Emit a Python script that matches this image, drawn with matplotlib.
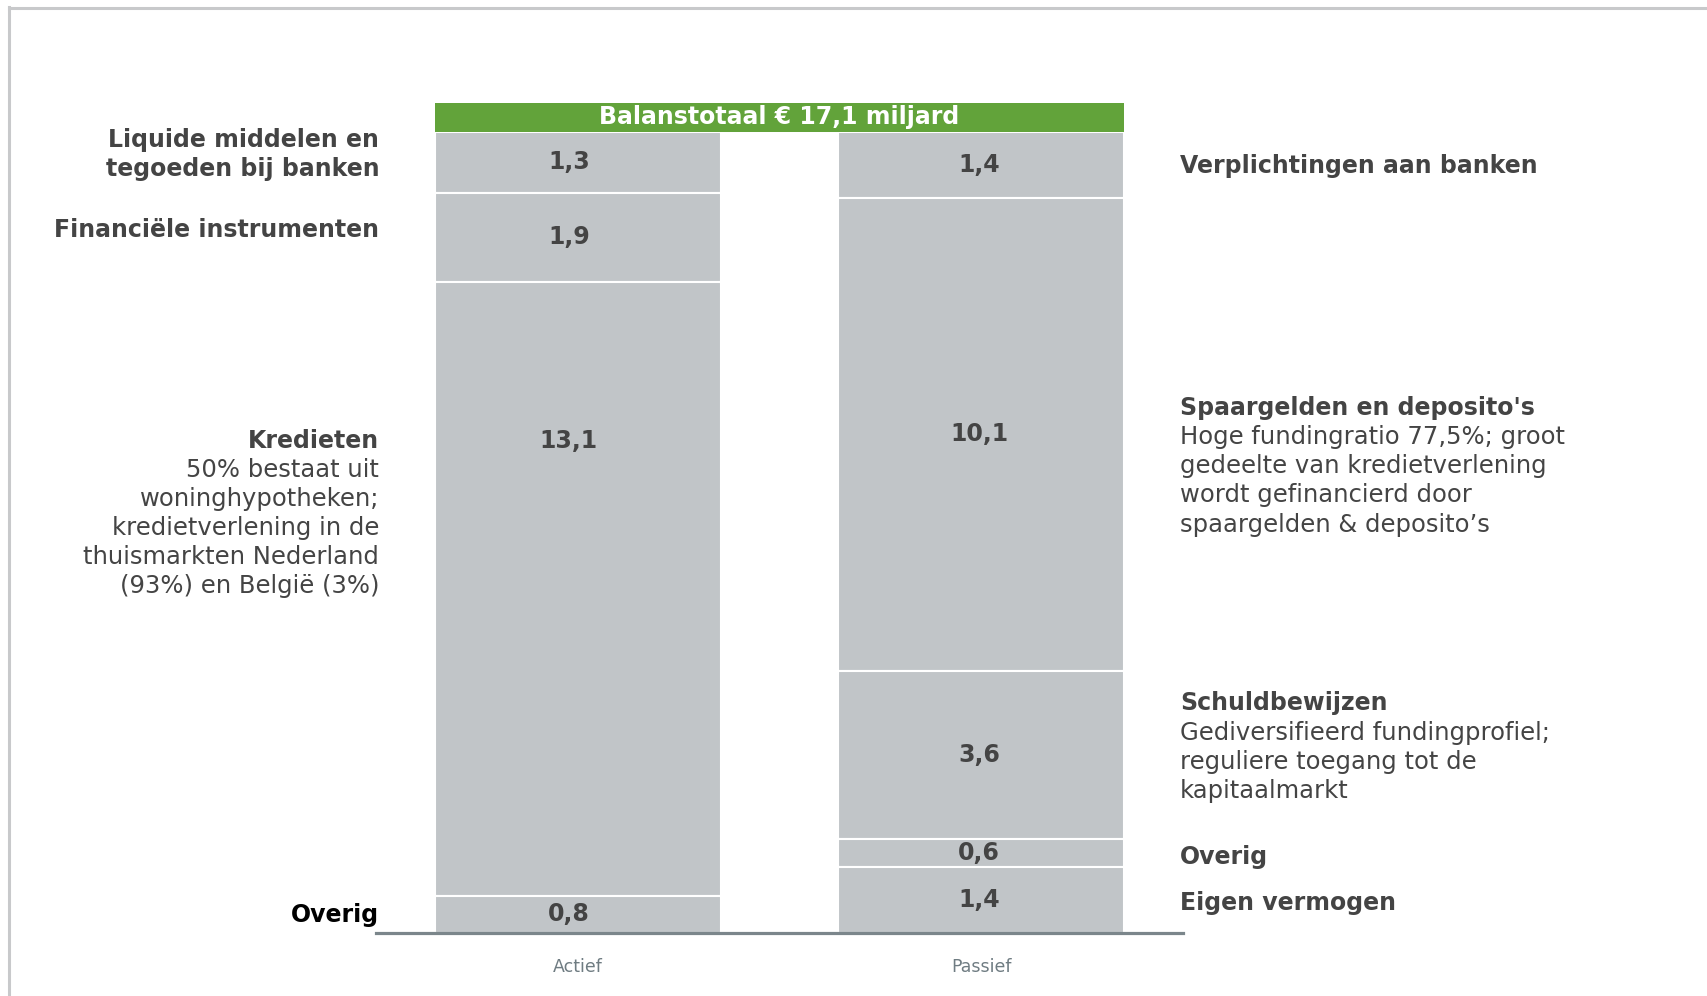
import numpy as np
import matplotlib
matplotlib.use('Agg')
import matplotlib.pyplot as plt
from matplotlib.lines import Line2D
import matplotlib.transforms as mtransforms

# balance sheet, in billions of euro, listed from top to bottom
actief_labels = ['Liquide middelen en\ntegoeden bij banken', 'Financiële instrumenten', 'Kredieten', 'Overig']
actief_values = [1.3, 1.9, 13.1, 0.8]
passief_labels = ['Verplichtingen aan banken', "Spaargelden en deposito's", 'Schuldbewijzen', 'Overig', 'Eigen vermogen']
passief_values = [1.4, 10.1, 3.6, 0.6, 1.4]
columns = ['Actief', 'Passief']
total_label = 'Balanstotaal € 17,1 miljard'

actief_notes = {'Kredieten': ['50% bestaat uit', 'woninghypotheken;', 'kredietverlening in de',
                              'thuismarkten Nederland', '(93%) en België (3%)']}
passief_notes = {"Spaargelden en deposito's": ['Hoge fundingratio 77,5%; groot', 'gedeelte van kredietverlening',
                                               'wordt gefinancierd door', 'spaargelden & deposito’s'],
                 'Schuldbewijzen': ['Gediversifieerd fundingprofiel;', 'reguliere toegang tot de', 'kapitaalmarkt']}

# where the side labels sit (value units)
actief_label_y = [16.62, 15.01, 10.50, 0.39]
passief_label_y = [16.38, 11.20, 4.90, 1.63, 0.63]

BAR = '#c1c5c8'
GREEN = '#62a33a'
DARK = '#444444'
AXIS = '#7b868b'
FS = 17
FS_NOTE = 17.5

W, H = 1707, 996
fig = plt.figure(figsize=(W / 100, H / 100), dpi=100)
fig.patch.set_facecolor('white')

# frame lines on top and left
fig.add_artist(Line2D([8.5 / W, 1], [1 - 8.5 / H, 1 - 8.5 / H], color='#c8c9cb', lw=2.2))
fig.add_artist(Line2D([8.5 / W, 8.5 / W], [0, 1 - 7 / H], color='#c8c9cb', lw=2.2))

ax = fig.add_axes([376 / W, 63 / H, 807 / W, 801 / H])
total = sum(actief_values)
ax.set_xlim(-0.5, 1.5)
ax.set_ylim(0, total)
width = 0.709

def stack(x, values, dx, label_pos=None):
    tops = total - np.concatenate([[0], np.cumsum(values)[:-1]])
    bottoms = tops - np.array(values)
    ax.bar(x, values, width=width, bottom=bottoms, color=BAR, edgecolor='white', linewidth=1.5)
    for i, (v, b) in enumerate(zip(values, bottoms)):
        frac = 0.5 if label_pos is None else label_pos.get(i, 0.5)
        ax.text(x + dx, b + v * frac, f'{v:.1f}'.replace('.', ','), ha='center', va='center',
                fontsize=FS, fontweight='bold', color=DARK)

stack(0, actief_values, -0.022, {2: 0.74})
stack(1, passief_values, -0.005)

# green total bar above the two stacks
ax.bar(0.5, 0.62, width=1 + width, bottom=total, color=GREEN, clip_on=False)
ax.text(0.5, total + 0.31, total_label, ha='center', va='center', fontsize=FS,
        fontweight='bold', color='white', clip_on=False)

trans = mtransforms.blended_transform_factory(ax.transAxes, ax.transData)
step = 0.62

def side_labels(labels, ys, notes, xpos, ha):
    for lab, y in zip(labels, ys):
        col = 'black' if (ha == 'right' and lab == 'Overig') else DARK
        ax.text(xpos, y, lab, transform=trans, ha=ha, va='center', fontsize=FS,
                fontweight='bold', color=col, linespacing=1.25, clip_on=False)
        for j, line in enumerate(notes.get(lab, [])):
            ax.text(xpos, y - (j + 1) * step, line, transform=trans, ha=ha, va='center',
                    fontsize=FS_NOTE, color=DARK, clip_on=False)

side_labels(actief_labels, actief_label_y, actief_notes, 0.004, 'right')
side_labels(passief_labels, passief_label_y, passief_notes, 0.996, 'left')

for s in ['top', 'left', 'right']:
    ax.spines[s].set_visible(False)
ax.spines['bottom'].set_color(AXIS)
ax.spines['bottom'].set_linewidth(2.3)
ax.set_yticks([])
ax.set_xticks([0, 1])
ax.set_xticklabels(columns, fontsize=12.5, color='#6f7c82')
ax.tick_params(axis='x', length=0, pad=18)

fig.savefig('out.png', dpi=100)
